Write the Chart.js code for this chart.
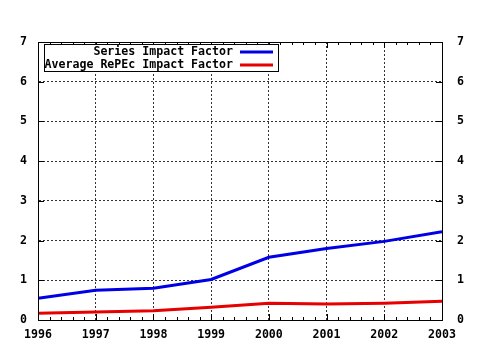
<!DOCTYPE html>
<html>
<head>
<meta charset="utf-8">
<script src="https://cdn.jsdelivr.net/npm/chart.js@4/dist/chart.umd.min.js"></script>
<style>
  html, body { margin: 0; padding: 0; background: #fff; }
  #wrap { width: 480px; height: 350px; }
</style>
</head>
<body>
<div id="wrap"><canvas id="grafico"></canvas></div>
<script>
// Datos
const anios = [1996, 1997, 1998, 1999, 2000, 2001, 2002, 2003];
const impactoSerie = [0.55, 0.75, 0.80, 1.02, 1.58, 1.80, 1.98, 2.22];
const impactoMedio = [0.17, 0.20, 0.23, 0.32, 0.42, 0.40, 0.42, 0.47];
const nombresSeries = ['Series Impact Factor', 'Average RePEc Impact Factor'];
const marcasY = [0, 1, 2, 3, 4, 5, 6, 7];

const fuente = { family: '"DejaVu Sans Mono", "Liberation Mono", monospace', size: 11.6, weight: 'bold' };
const fuenteCss = 'bold 11.6px "DejaVu Sans Mono", "Liberation Mono", monospace';

// Marcas hacia dentro en los cuatro lados, con subdivisiones en el eje X
const marcasInternas = {
  id: 'marcasInternas',
  afterDatasetsDraw(chart) {
    const { ctx, chartArea: a, scales } = chart;
    const x = scales.x, y = scales.y;
    ctx.save();
    ctx.strokeStyle = '#000';
    ctx.lineWidth = 1;
    ctx.beginPath();
    for (let i = 0; i < anios.length; i++) {
      const px = Math.round(x.getPixelForValue(anios[i])) + 0.5;
      ctx.moveTo(px, a.bottom); ctx.lineTo(px, a.bottom - 6);
      ctx.moveTo(px, a.top); ctx.lineTo(px, a.top + 6);
      if (i < anios.length - 1) {
        for (let k = 1; k < 5; k++) {
          const pm = Math.round(x.getPixelForValue(anios[i] + k / 5)) + 0.5;
          ctx.moveTo(pm, a.bottom); ctx.lineTo(pm, a.bottom - 3);
          ctx.moveTo(pm, a.top); ctx.lineTo(pm, a.top + 3);
        }
      }
    }
    marcasY.forEach(v => {
      const py = Math.round(y.getPixelForValue(v)) + 0.5;
      ctx.moveTo(a.left, py); ctx.lineTo(a.left + 6, py);
      ctx.moveTo(a.right, py); ctx.lineTo(a.right - 6, py);
    });
    ctx.stroke();
    ctx.restore();
  }
};

// Leyenda con el texto alineado a la derecha y la muestra de línea a su lado
const leyendaCaja = {
  id: 'leyendaCaja',
  afterDraw(chart) {
    const { ctx, chartArea: a } = chart;
    const izq = a.left + 6, arriba = a.top + 2;
    const ancho = 234, alto = 27;
    ctx.save();
    ctx.fillStyle = '#fff';
    ctx.fillRect(izq, arriba, ancho, alto);
    ctx.strokeStyle = '#000';
    ctx.lineWidth = 1;
    ctx.strokeRect(izq + 0.5, arriba + 0.5, ancho, alto);
    ctx.font = fuenteCss;
    ctx.textAlign = 'right';
    ctx.textBaseline = 'middle';
    chart.data.datasets.forEach((ds, i) => {
      const yc = arriba + 8 + i * 13;
      ctx.fillStyle = '#000';
      ctx.fillText(ds.label, izq + 189, yc);
      ctx.strokeStyle = ds.borderColor;
      ctx.lineWidth = 3;
      ctx.beginPath();
      ctx.moveTo(izq + 196, yc);
      ctx.lineTo(izq + 229, yc);
      ctx.stroke();
    });
    ctx.restore();
  }
};

new Chart(document.getElementById('grafico'), {
  type: 'line',
  data: {
    labels: anios,
    datasets: [
      {
        label: nombresSeries[0],
        data: anios.map((a, i) => ({ x: a, y: impactoSerie[i] })),
        borderColor: '#0000e6',
        borderWidth: 3,
        pointRadius: 0,
        tension: 0
      },
      {
        label: nombresSeries[1],
        data: anios.map((a, i) => ({ x: a, y: impactoMedio[i] })),
        borderColor: '#e60000',
        borderWidth: 3,
        pointRadius: 0,
        tension: 0
      }
    ]
  },
  options: {
    responsive: true,
    maintainAspectRatio: false,
    animation: false,
    layout: { padding: { top: 42, left: 0, right: 0, bottom: 0 } },
    plugins: { legend: { display: false }, tooltip: { enabled: false } },
    scales: {
      x: {
        type: 'linear',
        min: 1996,
        max: 2003,
        afterFit: s => { s.height = 30; },
        ticks: { stepSize: 1, color: '#000', font: fuente, padding: 8, maxRotation: 0, callback: v => String(v) },
        grid: { color: '#333', lineWidth: 1, drawTicks: false },
        border: { display: true, color: '#000', width: 1, dash: [2, 2] }
      },
      y: {
        min: 0,
        max: 7,
        afterFit: s => { s.width = 38; },
        ticks: { stepSize: 1, color: '#000', font: fuente, padding: 11 },
        grid: { color: '#333', lineWidth: 1, drawTicks: false },
        border: { display: true, color: '#000', width: 1, dash: [2, 2] }
      },
      y2: {
        position: 'right',
        min: 0,
        max: 7,
        afterFit: s => { s.width = 38; },
        ticks: { stepSize: 1, color: '#000', font: fuente, padding: 15 },
        grid: { display: false, drawTicks: false },
        border: { display: true, color: '#000', width: 1 }
      }
    }
  },
  plugins: [marcasInternas, leyendaCaja, {
    // Marco exterior sólido del área de trazado
    id: 'marco',
    afterDatasetsDraw(chart) {
      const { ctx, chartArea: a } = chart;
      ctx.save();
      ctx.strokeStyle = '#000';
      ctx.lineWidth = 1;
      ctx.strokeRect(Math.round(a.left) + 0.5, Math.round(a.top) + 0.5,
        Math.round(a.right - a.left), Math.round(a.bottom - a.top));
      ctx.restore();
    }
  }]
});
</script>
</body>
</html>
